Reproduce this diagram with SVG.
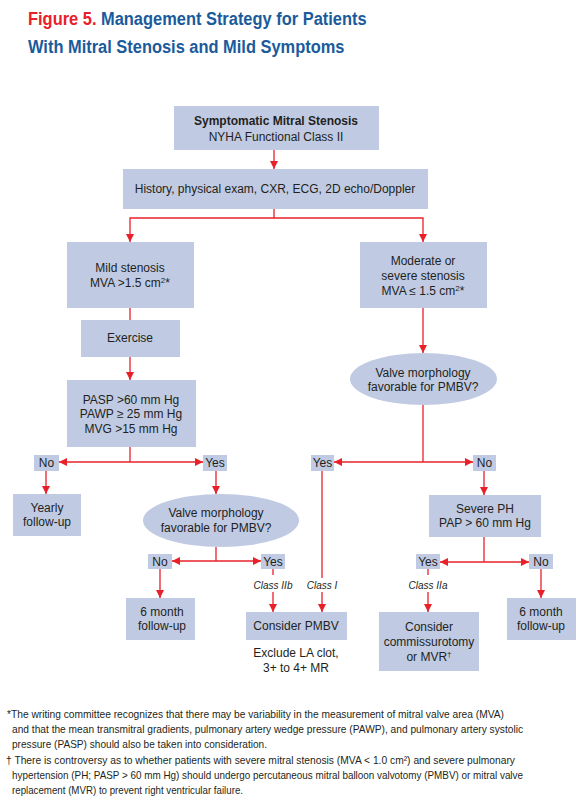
<svg xmlns="http://www.w3.org/2000/svg" width="579" height="810" viewBox="0 0 579 810">
<defs>
<style>
.bx{fill:#c0cbe3}
.t{font-family:"Liberation Sans",Arial,sans-serif;font-size:12px;fill:#231f20;text-anchor:middle}
.b{font-weight:bold}
.i{font-style:italic;font-size:10px}
.fn{font-family:"Liberation Sans",Arial,sans-serif;font-size:10.5px;fill:#231f20}
.ttl{font-family:"Liberation Sans",Arial,sans-serif;font-size:19px;font-weight:bold;fill:#1a5b9c}
.c{stroke:#e8202a;stroke-width:1.3;fill:none}
</style>
<marker id="ah" viewBox="0 0 10 10" refX="10" refY="5" markerWidth="8" markerHeight="8" markerUnits="userSpaceOnUse" orient="auto">
<path d="M0,0 L10,5 L0,10 z" fill="#e8202a"/>
</marker>
</defs>
<rect width="579" height="810" fill="#fff"/>
<g id="title" transform="translate(28,0) scale(0.865,1)">
<text class="ttl" x="0" y="25"><tspan style="fill:#e8202a">Figure 5.</tspan> Management Strategy for Patients</text>
<text class="ttl" x="0" y="53">With Mitral Stenosis and Mild Symptoms</text>
</g>
<g id="connectors">
<line class="c" x1="274" y1="150" x2="274" y2="169" marker-end="url(#ah)"/>
<polyline class="c" points="274,209 274,218 130,218 130,242" marker-end="url(#ah)"/>
<polyline class="c" points="274,218 423,218 423,242" marker-end="url(#ah)"/>
<line class="c" x1="130" y1="308" x2="130" y2="320"/>
<line class="c" x1="130" y1="357" x2="130" y2="380" marker-end="url(#ah)"/>
<line class="c" x1="130" y1="447" x2="130" y2="462"/>
<line class="c" x1="130" y1="462" x2="59" y2="462" marker-end="url(#ah)"/>
<line class="c" x1="130" y1="462" x2="203" y2="462" marker-end="url(#ah)"/>
<line class="c" x1="46" y1="471" x2="46" y2="494" marker-end="url(#ah)"/>
<line class="c" x1="216" y1="471" x2="216" y2="494" marker-end="url(#ah)"/>
<line class="c" x1="216" y1="547" x2="216" y2="561"/>
<line class="c" x1="216" y1="561" x2="172" y2="561" marker-end="url(#ah)"/>
<line class="c" x1="216" y1="561" x2="261" y2="561" marker-end="url(#ah)"/>
<line class="c" x1="160" y1="569" x2="160" y2="598" marker-end="url(#ah)"/>
<line class="c" x1="273" y1="569" x2="273" y2="575"/>
<line class="c" x1="273" y1="592" x2="273" y2="612" marker-end="url(#ah)"/>
<line class="c" x1="423" y1="308" x2="423" y2="353" marker-end="url(#ah)"/>
<line class="c" x1="423" y1="405" x2="423" y2="462"/>
<line class="c" x1="423" y1="462" x2="334" y2="462" marker-end="url(#ah)"/>
<line class="c" x1="423" y1="462" x2="473" y2="462" marker-end="url(#ah)"/>
<line class="c" x1="322" y1="471" x2="322" y2="578"/>
<line class="c" x1="322" y1="592" x2="322" y2="612" marker-end="url(#ah)"/>
<line class="c" x1="484" y1="471" x2="484" y2="495" marker-end="url(#ah)"/>
<line class="c" x1="484" y1="537" x2="484" y2="562"/>
<line class="c" x1="484" y1="562" x2="440" y2="562" marker-end="url(#ah)"/>
<line class="c" x1="484" y1="562" x2="529" y2="562" marker-end="url(#ah)"/>
<line class="c" x1="428" y1="569" x2="428" y2="575"/>
<line class="c" x1="428" y1="592" x2="428" y2="612" marker-end="url(#ah)"/>
<line class="c" x1="541" y1="569" x2="541" y2="598" marker-end="url(#ah)"/>
</g>
<g id="n-start"><rect class="bx" x="174" y="106" width="205" height="44"/>
<text class="t b" x="276" y="125">Symptomatic Mitral Stenosis</text>
<text class="t" x="276" y="141">NYHA Functional Class II</text></g>
<g id="n-history"><rect class="bx" x="123" y="169" width="305" height="40"/>
<text class="t" x="275" y="193">History, physical exam, CXR, ECG, 2D echo/Doppler</text></g>
<g id="n-mild"><rect class="bx" x="67" y="242" width="127" height="66"/>
<text class="t" x="130" y="272">Mild stenosis</text>
<text class="t" x="130" y="287">MVA &gt;1.5 cm<tspan font-size="8" dy="-4">2</tspan><tspan dy="4">*</tspan></text></g>
<g id="n-exercise"><rect class="bx" x="81" y="320" width="99" height="37"/>
<text class="t" x="130" y="342">Exercise</text></g>
<g id="n-pasp"><rect class="bx" x="67" y="380" width="129" height="67"/>
<text class="t" x="131" y="404">PASP &gt;60 mm Hg</text>
<text class="t" x="131" y="418">PAWP ≥ 25 mm Hg</text>
<text class="t" x="131" y="433">MVG &gt;15 mm Hg</text></g>
<g id="l-no1"><rect class="bx" x="34" y="455" width="25" height="16"/><text class="t" x="46.5" y="467">No</text></g>
<g id="l-yes1"><rect class="bx" x="203" y="455" width="24" height="16"/><text class="t" x="215" y="467">Yes</text></g>
<g id="n-yearly"><rect class="bx" x="13" y="494" width="68" height="42"/>
<text class="t" x="47" y="512">Yearly</text>
<text class="t" x="47" y="526">follow-up</text></g>
<g id="n-valve1"><ellipse class="bx" cx="221" cy="520.5" rx="78" ry="26.5"/>
<text class="t" x="216" y="517">Valve morphology</text>
<text class="t" x="216" y="532">favorable for PMBV?</text></g>
<g id="l-no2"><rect class="bx" x="148" y="554" width="24" height="15"/><text class="t" x="160" y="566">No</text></g>
<g id="l-yes2"><rect class="bx" x="261" y="554" width="24" height="15"/><text class="t" x="273" y="566">Yes</text></g>
<text class="t i" x="273" y="589">Class IIb</text>
<g id="n-6m1"><rect class="bx" x="126" y="598" width="69" height="42"/>
<text class="t" x="162" y="616">6 month</text>
<text class="t" x="162" y="630">follow-up</text></g>
<g id="n-pmbv"><rect class="bx" x="246" y="612" width="101" height="28"/>
<text class="t" x="296" y="630">Consider PMBV</text></g>
<text class="t" x="296" y="657">Exclude LA clot,</text>
<text class="t" x="296" y="672">3+ to 4+ MR</text>
<g id="n-moderate"><rect class="bx" x="360" y="242" width="127" height="66"/>
<text class="t" x="423" y="265">Moderate or</text>
<text class="t" x="423" y="280">severe stenosis</text>
<text class="t" x="423" y="295">MVA ≤ 1.5 cm<tspan font-size="8" dy="-4">2</tspan><tspan dy="4">*</tspan></text></g>
<g id="n-valve2"><ellipse class="bx" cx="423.5" cy="379" rx="73.5" ry="26"/>
<text class="t" x="423" y="377">Valve morphology</text>
<text class="t" x="423" y="391">favorable for PMBV?</text></g>
<g id="l-yes3"><rect class="bx" x="311" y="455" width="23" height="16"/><text class="t" x="322.5" y="467">Yes</text></g>
<g id="l-no3"><rect class="bx" x="473" y="455" width="23" height="16"/><text class="t" x="484.5" y="467">No</text></g>
<text class="t i" x="322" y="589">Class I</text>
<g id="n-severe"><rect class="bx" x="429" y="495" width="112" height="42"/>
<text class="t" x="485" y="513">Severe PH</text>
<text class="t" x="485" y="527">PAP &gt; 60 mm Hg</text></g>
<g id="l-yes4"><rect class="bx" x="416" y="554" width="24" height="15"/><text class="t" x="428" y="566">Yes</text></g>
<g id="l-no4"><rect class="bx" x="529" y="554" width="24" height="15"/><text class="t" x="541" y="566">No</text></g>
<text class="t i" x="428" y="589">Class IIa</text>
<g id="n-commis"><rect class="bx" x="379" y="612" width="100" height="59"/>
<text class="t" x="429" y="631">Consider</text>
<text class="t" x="429" y="646">commissurotomy</text>
<text class="t" x="429" y="661">or MVR<tspan font-size="8" dy="-4">†</tspan></text></g>
<g id="n-6m2"><rect class="bx" x="507" y="598" width="69" height="42"/>
<text class="t" x="541" y="616">6 month</text>
<text class="t" x="541" y="630">follow-up</text></g>
<g id="footnotes">
<text class="fn" x="7" y="718" textLength="497" lengthAdjust="spacingAndGlyphs">*The writing committee recognizes that there may be variability in the measurement of mitral valve area (MVA)</text>
<text class="fn" x="12" y="733" textLength="511" lengthAdjust="spacingAndGlyphs">and that the mean transmitral gradients, pulmonary artery wedge pressure (PAWP), and pulmonary artery systolic</text>
<text class="fn" x="12" y="748" textLength="255" lengthAdjust="spacingAndGlyphs">pressure (PASP) should also be taken into consideration.</text>
<text class="fn" x="6" y="764" textLength="509" lengthAdjust="spacingAndGlyphs">† There is controversy as to whether patients with severe mitral stenosis (MVA &lt; 1.0 cm²) and severe pulmonary</text>
<text class="fn" x="12" y="779" textLength="511" lengthAdjust="spacingAndGlyphs">hypertension (PH; PASP &gt; 60 mm Hg) should undergo percutaneous mitral balloon valvotomy (PMBV) or mitral valve</text>
<text class="fn" x="12" y="794" textLength="231" lengthAdjust="spacingAndGlyphs">replacement (MVR) to prevent right ventricular failure.</text>
</g>
</svg>
